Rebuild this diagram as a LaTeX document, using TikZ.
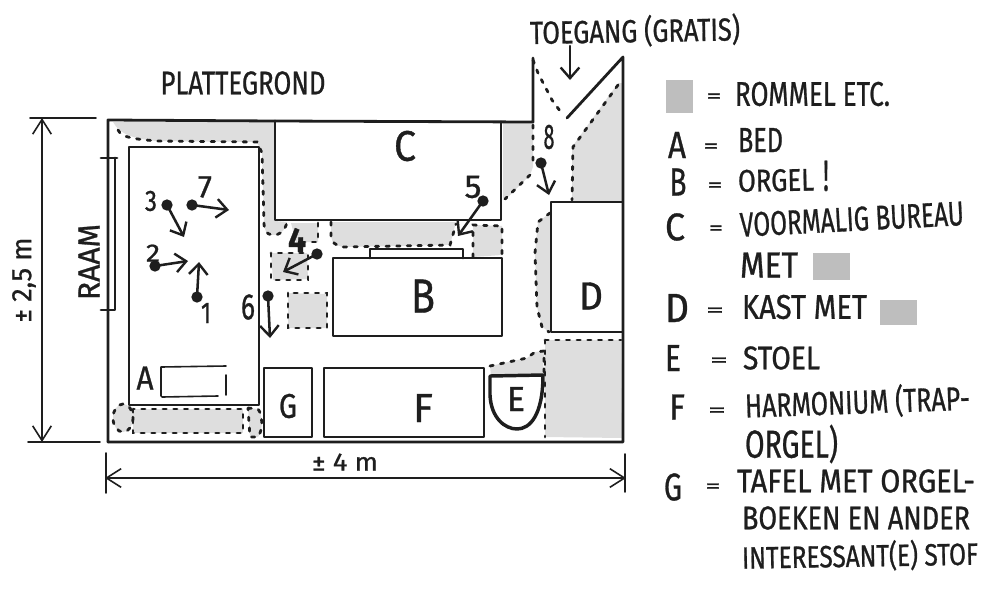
\documentclass[tikz,border=0pt]{standalone}
\usepackage{fontspec}
\usepackage{graphicx}
\setmainfont{Fira Sans}
\newfontfamily\handfont[FakeBold=0.9]{Fira Sans}
\usetikzlibrary{arrows.meta}
\newlength\pxu
\setlength\pxu{0.75pt}
\newcommand\hw[3]{\resizebox{#1\pxu}{#2\pxu}{\handfont #3}}
\definecolor{ink}{HTML}{1E1E1E}
\definecolor{rommel}{HTML}{DEDEDE}
\definecolor{swatch}{HTML}{BEBEBE}
\tikzset{
  wall/.style={draw=ink,line width=2.1pt,line cap=round,line join=round},
  thinwall/.style={draw=ink,line width=1.2pt,line cap=round},
  dashline/.style={draw=ink,line width=2.1pt,line cap=round,dash pattern=on 2.5pt off 5.5pt},
  junk/.style={fill=rommel,draw=none},
  dotn/.style={circle,fill=ink,draw=none,minimum size=8.5pt,inner sep=0pt},
  arr/.style={draw=ink,line width=1.9pt,line cap=round,-{Straight Barb[length=8pt,width=14pt,line width=1.8pt]}},
  dim/.style={draw=ink,line width=1.2pt,{Straight Barb[length=11pt,width=14pt,line width=1.2pt]}-{Straight Barb[length=11pt,width=14pt,line width=1.2pt]}},
  hand/.style={inner sep=0pt,outer sep=0pt,text=ink,anchor=center},
  handl/.style={inner sep=0pt,outer sep=0pt,text=ink,anchor=west},
}
\begin{document}
\begin{tikzpicture}[x=0.75pt,y=-0.75pt]
\useasboundingbox (0,0) rectangle (1000,590);
% grey areas
\fill[junk] (113,122) -- (275,122) -- (275,221) -- (287,222) .. controls (285,232) and (278,236) .. (272,235) .. controls (266,234) and (264,230) .. (264,222) -- (262,153) -- (257,142) -- (157,141) .. controls (135,139) and (120,135) .. cycle;
\fill[junk] (291,223) -- (318,223) -- (318,242) -- (296,242) -- cycle;
\fill[junk] (331,222) -- (456,222) -- (450,245) -- (343,247) .. controls (335,245) and (332,243) .. (331,236) -- cycle;
\fill[junk] (473,225) -- (502,226) -- (502,255) -- (473,257) -- cycle;
\fill[junk] (271,253) -- (307,253) -- (308,279) -- (273,280) -- cycle;
\fill[junk] (288,293) -- (327,294) -- (327,328) -- (288,328) -- cycle;
\fill[junk] (503,123) -- (533,123) -- (533,167) -- (530,175) -- (507,198) -- (503,200) -- cycle;
\fill[junk] (618,83) -- (622,83) -- (622,201) -- (572,201) -- (572,147) -- cycle;
\fill[junk] (550,213) -- (538,222) -- (535,253) -- (537,307) -- (542,327) -- (550,332) -- cycle;
\fill[junk] (545,340) -- (621,340) -- (622,438) -- (545,437) -- cycle;
\fill[junk] (490,366) -- (527,358) -- (535,352) -- (544,351) -- (543,375) -- (491,376) -- cycle;
\fill[junk] (123,418) ellipse [x radius=10,y radius=14];
\fill[junk] (133,409) -- (243,409) -- (243,433) -- (133,433) -- cycle;
\fill[junk] (248,408) -- (258,409) .. controls (263,415) and (263,430) .. (258,437) -- (250,437) -- cycle;
% dashed edges
\draw[dashline] (118,130) .. controls (122,138) and (135,139) .. (157,141) -- (257,142) -- (262,153) -- (264,222) .. controls (264,230) and (266,234) .. (272,235) .. controls (278,236) and (285,232) .. (287,222);
\draw[dashline] (318,223) -- (318,242) -- (300,242);
\draw[dashline] (331,222) -- (331,236) .. controls (332,243) and (335,245) .. (343,247) -- (450,245) -- (456,224);
\draw[dashline] (473,257) -- (473,225) -- (502,226) -- (502,255);
\draw[dashline] (271,253) rectangle (308,280);
\draw[dashline] (288,293) rectangle (327,328);
\draw[dashline] (533,125) -- (533,167) (530,175) -- (505,199);
\draw[dashline] (618,85) -- (573,147) -- (572,200);
\draw[dashline] (533,60) -- (538,73) -- (552,100) -- (563,115);
\draw[dashline] (550,213) -- (538,222) -- (535,253) -- (537,307) -- (542,327) -- (549,332);
\draw[dashline] (545,340) -- (621,340) (545,340) -- (545,437);
\draw[dashline] (490,366) -- (527,358) -- (535,352) -- (544,351) -- (544,372);
\draw[dashline] (123,418) ellipse [x radius=10,y radius=14];
\draw[dashline] (133,409) rectangle (243,433);
\draw[dashline] (248,408) -- (258,409) .. controls (263,415) and (263,430) .. (258,437) -- (250,437) -- (248,408);
% building
\draw[wall] (108,442) -- (108,120) -- (275,121) -- (533,122) -- (533,58);
\draw[wall] (108,442) -- (623,442) -- (623,57) -- (567,118);
\draw[wall] (275,121) -- (275,220) -- (501,220) -- (501,122);
% window
\draw[wall] (101,158) -- (117,158) (115,158) -- (115,310) -- (101,310);
% bed A
\draw[wall] (129,147) rectangle (259,405);
\draw[thinwall] (161,367) -- (161,396) (161,367) -- (226,366) (162,397) -- (218,396) (226,375) -- (226,395);
% furniture
\draw[wall] (264,368) rectangle (312,437);
\draw[wall] (324,368) rectangle (484,437);
\draw[wall] (333,258) rectangle (502,336);
\draw[wall] (370,258) -- (370,249) -- (463,249) -- (463,258);
\draw[wall] (551,202) rectangle (623,332);
\draw[wall,line width=2.6pt] (490,376) -- (543,375) .. controls (543,415) and (530,429) .. (517,429) .. controls (505,429) and (491,418) .. (490,395) -- cycle;
% viewing points
\node[dotn] (d1) at (197,297) {}; \coordinate (a1) at (199,262);
\node[dotn] (d2) at (155,266) {}; \coordinate (a2) at (188,261);
\node[dotn] (d3) at (167,205) {}; \coordinate (a3) at (184,237);
\node[dotn] (d4) at (317,254) {}; \coordinate (a4) at (283,272);
\node[dotn] (d5) at (483,201) {}; \coordinate (a5) at (458,236);
\node[dotn] (d6) at (268,296) {}; \coordinate (a6) at (270,338);
\node[dotn] (d7) at (192,205) {}; \coordinate (a7) at (229,210);
\node[dotn] (d8) at (541,163) {}; \coordinate (a8) at (549,195);
\foreach \n in {1,...,8} {\draw[arr] (d\n.center) -- (a\n);}
\coordinate (t1) at (570,46); \coordinate (t2) at (570,80);
\draw[arr] (t1) -- (t2);
% dimensions
\coordinate (v1) at (42,118); \coordinate (v2) at (42,442);
\coordinate (h1) at (105,478); \coordinate (h2) at (626,478);
\draw[dim] (v1) -- (v2);
\draw[dim] (h1) -- (h2);
\coordinate (v1a) at (30,118); \coordinate (v1b) at (96,118);
\coordinate (v2a) at (28,442); \coordinate (v2b) at (100,442);
\coordinate (h1a) at (106,453); \coordinate (h1b) at (106,493);
\coordinate (h2a) at (625,454); \coordinate (h2b) at (625,492);
\draw[thinwall] (v1a) -- (v1b) (v2a) -- (v2b) (h1a) -- (h1b) (h2a) -- (h2b);
% plan labels
\node[hand] (title) at (243,83) {\hw{165}{23}{PLATTEGROND}};
\node[hand,rotate=1] (toeg) at (635,31) {\hw{210}{27}{TOEGANG (GRATIS)}};
\node[hand,rotate=90] (raam) at (89,262) {\hw{76}{21}{RAAM}};
\node[hand,rotate=90] (l25) at (24,280) {\hw{85}{19}{± 2,5 m}};
\node[hand] (l4) at (345,462) {\hw{66}{17}{± 4 m}};
\node[hand] (lA) at (145,378) {\hw{17}{23}{A}};
\node[hand] (lB) at (423,296) {\hw{24}{33}{B}};
\node[hand] (lC) at (405,146) {\hw{22}{30}{C}};
\node[hand] (lD) at (591,296) {\hw{24}{27}{D}};
\node[hand] (lE) at (516,399) {\hw{18}{24}{E}};
\node[hand] (lF) at (423,408) {\hw{20}{28}{F}};
\node[hand] (lG) at (288,406) {\hw{18}{24}{G}};
\node[hand] (n1) at (206,313) {\hw{10}{20}{1}};
\node[hand] (n2) at (153,253) {\hw{14}{17}{2}};
\node[hand] (n3) at (151,201) {\hw{12}{20}{3}};
\node[hand] (n4) at (297,240) {\hw{18}{24}{\bfseries 4}};
\node[hand] (n5) at (473,187) {\hw{17}{22}{5}};
\node[hand] (n6) at (248,307) {\hw{14}{25}{6}};
\node[hand] (n7) at (205,187) {\hw{14}{21}{7}};
\node[hand] (n8) at (549,137) {\hw{11}{24}{8}};
% legend
\fill[swatch] (666,80) rectangle (693,113);
\fill[swatch] (813,253) rectangle (850,280);
\fill[swatch] (880,300) rectangle (917,325);
\node[hand] (q0) at (714,98) {\hw{15}{9}{=}};
\node[handl] (k0) at (735,94) {\hw{155}{24}{ROMMEL ETC.}};
\node[hand] (kA) at (677,145) {\hw{18}{26}{A}};
\node[hand] (q1) at (711,148) {\hw{15}{9}{=}};
\node[handl] (k1) at (738,140) {\hw{45}{24}{BED}};
\node[hand] (kB) at (678,182) {\hw{17}{27}{B}};
\node[hand] (q2) at (715,187) {\hw{15}{9}{=}};
\node[handl,rotate=1] (k2) at (738,181) {\hw{76}{22}{ORGEL}};
\node[hand] (k2x) at (826,176) {\hw{6}{30}{!}};
\node[hand] (kC) at (675,227) {\hw{20}{27}{C}};
\node[hand] (q3) at (716,230) {\hw{14}{9}{=}};
\node[handl,rotate=3] (k3) at (740,225) {\hw{224}{24}{VOORMALIG BUREAU}};
\node[handl] (k3b) at (740,265) {\hw{58}{25}{MET}};
\node[hand] (kD) at (677,308) {\hw{24}{28}{D}};
\node[hand] (q4) at (715,312) {\hw{18}{9}{=}};
\node[handl] (k4) at (742,307) {\hw{125}{24}{KAST MET}};
\node[hand] (kE) at (673,358) {\hw{16}{26}{E}};
\node[hand] (q5) at (719,362) {\hw{18}{9}{=}};
\node[handl] (k5) at (743,358) {\hw{77}{23}{STOEL}};
\node[hand] (kF) at (677,407) {\hw{16}{25}{F}};
\node[hand] (q6) at (717,412) {\hw{18}{9}{=}};
\node[handl,rotate=2] (k6) at (745,406) {\hw{225}{28}{HARMONIUM (TRAP-}};
\node[handl] (k6b) at (745,444) {\hw{93}{33}{ORGEL)}};
\node[hand] (kG) at (673,487) {\hw{18}{27}{G}};
\node[hand] (q7) at (713,488) {\hw{15}{9}{=}};
\node[handl] (k7) at (737,481) {\hw{238}{23}{TAFEL MET ORGEL-}};
\node[handl] (k7b) at (742,518) {\hw{228}{23}{BOEKEN EN ANDER}};
\node[handl,rotate=1] (k7c) at (742,558) {\hw{236}{26}{INTERESSANT(E) STOF}};
\end{tikzpicture}
\end{document}
